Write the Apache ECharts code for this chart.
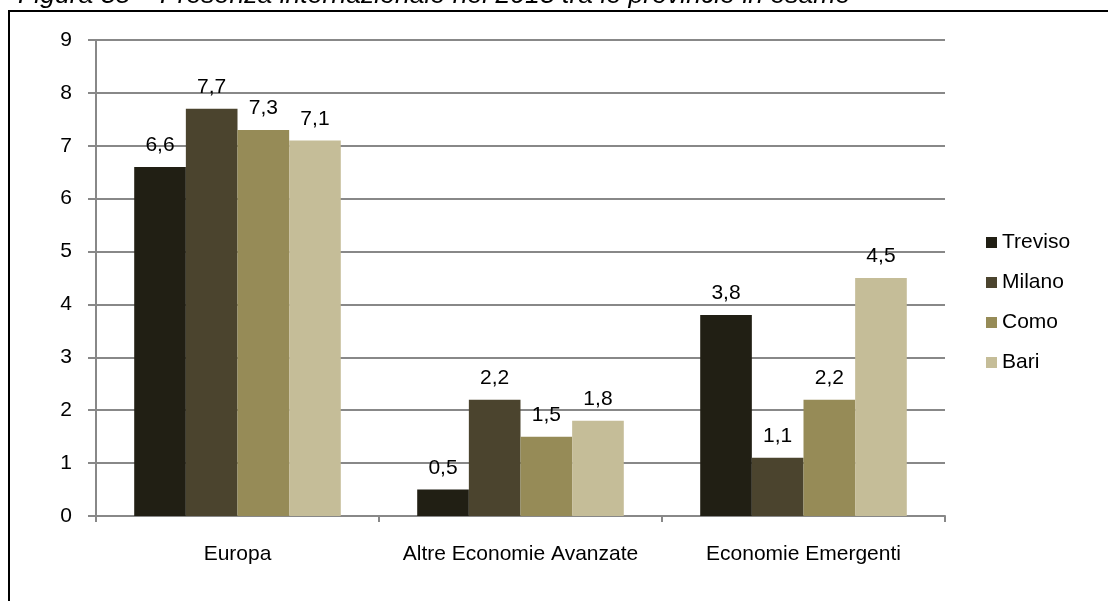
<!DOCTYPE html>
<html><head><meta charset="utf-8">
<script src="https://cdn.jsdelivr.net/npm/echarts@6/dist/echarts.min.js"></script>
<style>html,body{margin:0;padding:0;background:#fff}#c{width:1108px;height:601px}</style>
</head><body><div id="c"></div>
<script>
const categories = ['Europa', 'Altre Economie Avanzate', 'Economie Emergenti'];
const seriesNames = ['Treviso', 'Milano', 'Como', 'Bari'];
const treviso = [6.6, 0.5, 3.8];
const milano = [7.7, 2.2, 1.1];
const como = [7.3, 1.5, 2.2];
const bari = [7.1, 1.8, 4.5];
const colors = ['#211f14', '#4b442e', '#968b57', '#c5bd98'];
const titleText = 'Figura 35 – Presenza internazionale nel 2013 tra le provincie in esame';

const values = [treviso, milano, como, bari];
const font = 'Arial, "Liberation Sans", sans-serif';
const chart = echarts.init(document.getElementById('c'));
chart.setOption({
  animation: false,
  color: colors,
  graphic: [
    { type: 'text', x: 18, y: 9, style: { text: titleText, font: 'italic 26.6px ' + font, fill: '#000', verticalAlign: 'bottom' } },
    { type: 'rect', shape: { x: 9, y: 11, width: 1200, height: 700 }, style: { fill: 'none', stroke: '#000', lineWidth: 2 } }
  ],
  legend: {
    orient: 'vertical', left: 981, top: 227, itemWidth: 11, itemHeight: 11, itemGap: 19,
    icon: 'rect',
    textStyle: { fontFamily: font, fontSize: 21, color: '#000' },
    data: seriesNames
  },
  grid: { left: 96, right: 163, top: 40, bottom: 85 },
  xAxis: {
    type: 'category', data: categories,
    axisLine: { lineStyle: { color: '#888', width: 2 } },
    axisTick: { show: true, length: 6, lineStyle: { color: '#888', width: 2 } },
    axisLabel: { fontFamily: font, fontSize: 21, color: '#000', margin: 28, interval: 0 }
  },
  yAxis: {
    type: 'value', min: 0, max: 9, interval: 1,
    axisLine: { show: true, lineStyle: { color: '#888', width: 2 } },
    axisTick: { show: true, length: 8, lineStyle: { color: '#888', width: 2 } },
    splitLine: { lineStyle: { color: '#888', width: 2 } },
    axisLabel: { fontFamily: font, fontSize: 21, color: '#000', margin: 24 }
  },
  series: seriesNames.map((n, i) => ({
    name: n, type: 'bar', data: values[i],
    barGap: '0%', barCategoryGap: '27%',
    label: { show: true, position: 'top', distance: 11, fontFamily: font, fontSize: 21, color: '#000',
      formatter: p => String(p.value).replace('.', ',') }
  }))
});
</script></body></html>
